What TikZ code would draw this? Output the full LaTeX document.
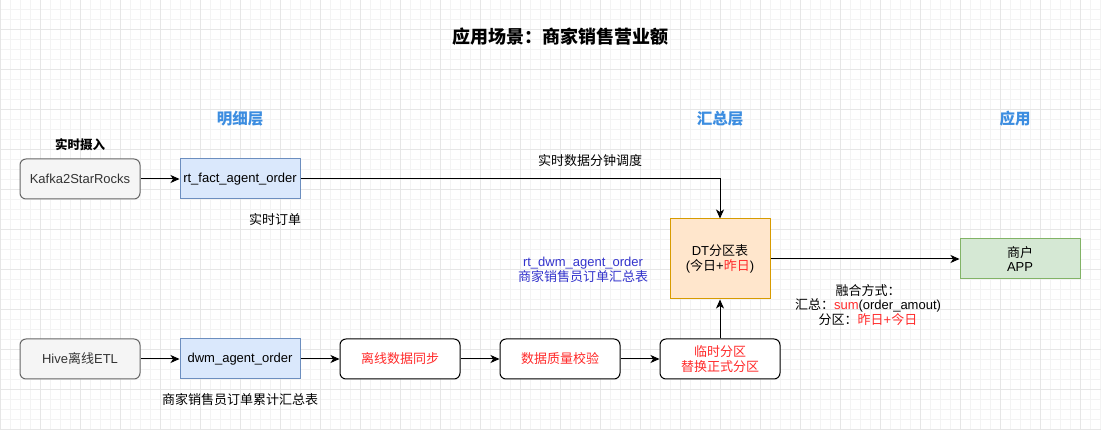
\documentclass[tikz,border=0pt]{standalone}
\usepackage{fontspec}
\setmainfont{Liberation Sans}
\newfontfamily\cjk{Noto Sans CJK SC}
\usetikzlibrary{arrows.meta}
\newcommand{\zh}[1]{{\cjk #1}}
\definecolor{gridminor}{HTML}{F3F3F3}
\definecolor{gridmajor}{HTML}{E6E6E6}
\definecolor{grayfill}{HTML}{F5F5F5}
\definecolor{graydraw}{HTML}{666666}
\definecolor{graytext}{HTML}{333333}
\definecolor{bluefill}{HTML}{DAE8FC}
\definecolor{bluedraw}{HTML}{6C8EBF}
\definecolor{orangefill}{HTML}{FFE6CC}
\definecolor{orangedraw}{HTML}{D79B00}
\definecolor{greenfill}{HTML}{D5E8D4}
\definecolor{greendraw}{HTML}{82B366}
\definecolor{redtext}{HTML}{FF2A2A}
\definecolor{layerblue}{HTML}{3C8DE0}
\definecolor{tblue}{HTML}{3333CC}
\begin{document}
\begin{tikzpicture}[x=1pt,y=-1pt,
  body/.style={font=\fontsize{13}{15}\selectfont, inner sep=0pt, align=center},
  box/.style={body, draw, line width=1pt, minimum width=120pt, minimum height=40pt},
  grayrnd/.style={box, rounded corners=6pt, fill=grayfill, draw=graydraw, text=graytext},
  bluebox/.style={box, fill=bluefill, draw=bluedraw},
  whiternd/.style={box, rounded corners=6pt, fill=white, draw=black, text=redtext},
  layer/.style={font=\fontsize{15.5}{18}\selectfont\bfseries, text=layerblue, inner sep=0pt},
  arr/.style={-{Stealth[length=9pt,width=8pt,inset=2.5pt]}, line width=1pt, draw=black}
]
\useasboundingbox (0,0) rectangle (1101,430);
\fill[white] (0,0) rectangle (1101,430);
\foreach \x in {0,10,...,1100} \draw[gridminor, line width=0.6pt] (\x,0) -- (\x,430);
\foreach \y in {9,19,...,429} \draw[gridminor, line width=0.6pt] (0,\y) -- (1101,\y);
\foreach \x in {0,40,...,1100} \draw[gridmajor, line width=0.8pt] (\x,0) -- (\x,430);
\foreach \y in {29,69,...,429} \draw[gridmajor, line width=0.8pt] (0,\y) -- (1101,\y);

\node[font=\fontsize{18}{20}\selectfont\bfseries, inner sep=0pt] (title) at (560,37) {\zh{应用场景：商家销售营业额}};
\node[layer] (l1) at (240,119) {\zh{明细层}};
\node[layer] (l2) at (720,119) {\zh{汇总层}};
\node[layer] (l3) at (1015,119) {\zh{应用}};

\node[body, font=\fontsize{12.5}{15}\selectfont\bfseries] (ssr) at (80,145) {\zh{实时摄入}};
\node[grayrnd] (kafka) at (80,179) {Kafka2StarRocks};
\node[bluebox] (rtfact) at (240,179) {rt\_fact\_agent\_order};
\node[body] (rtorder) at (275,220) {\zh{实时订单}};
\node[body] (sched) at (590,161) {\zh{实时数据分钟调度}};

\node[body, draw=orangedraw, fill=orangefill, line width=1pt, minimum width=100pt, minimum height=80pt, font=\fontsize{13}{14.5}\selectfont] (dt) at (720,259)
  {DT\zh{分区表}\\(\zh{今日}+\textcolor{redtext}{\zh{昨日}})};
\node[body, text=tblue, font=\fontsize{13}{14.5}\selectfont] (rtdwm) at (583,270) {rt\_dwm\_agent\_order\\\zh{商家销售员订单汇总表}};
\node[box, fill=greenfill, draw=greendraw, font=\fontsize{13}{14.5}\selectfont] (app) at (1020,259) {\zh{商户}\\APP};
\node[body, font=\fontsize{13}{14.5}\selectfont] (fuse) at (868,305)
  {\zh{融合方式：}\\\zh{汇总：}\textcolor{redtext}{sum}(order\_amout)\\\zh{分区：}\textcolor{redtext}{\zh{昨日}+\zh{今日}}};

\node[grayrnd] (hive) at (80,359) {Hive\zh{离线}ETL};
\node[bluebox] (dwm) at (240,359) {dwm\_agent\_order};
\node[whiternd] (sync) at (400,359) {\zh{离线数据同步}};
\node[whiternd] (qc) at (560,359) {\zh{数据质量校验}};
\node[whiternd, font=\fontsize{13}{14.5}\selectfont] (part) at (720,359) {\zh{临时分区}\\\zh{替换正式分区}};
\node[body] (dwmlbl) at (240,400) {\zh{商家销售员订单累计汇总表}};

\draw[arr] (kafka) -- (rtfact);
\draw[arr] (rtfact.east) -| (dt.north);
\draw[arr] (dt) -- (app);
\draw[arr] (hive) -- (dwm);
\draw[arr] (dwm) -- (sync);
\draw[arr] (sync) -- (qc);
\draw[arr] (qc) -- (part);
\draw[arr] (part) -- (dt);
\end{tikzpicture}
\end{document}
